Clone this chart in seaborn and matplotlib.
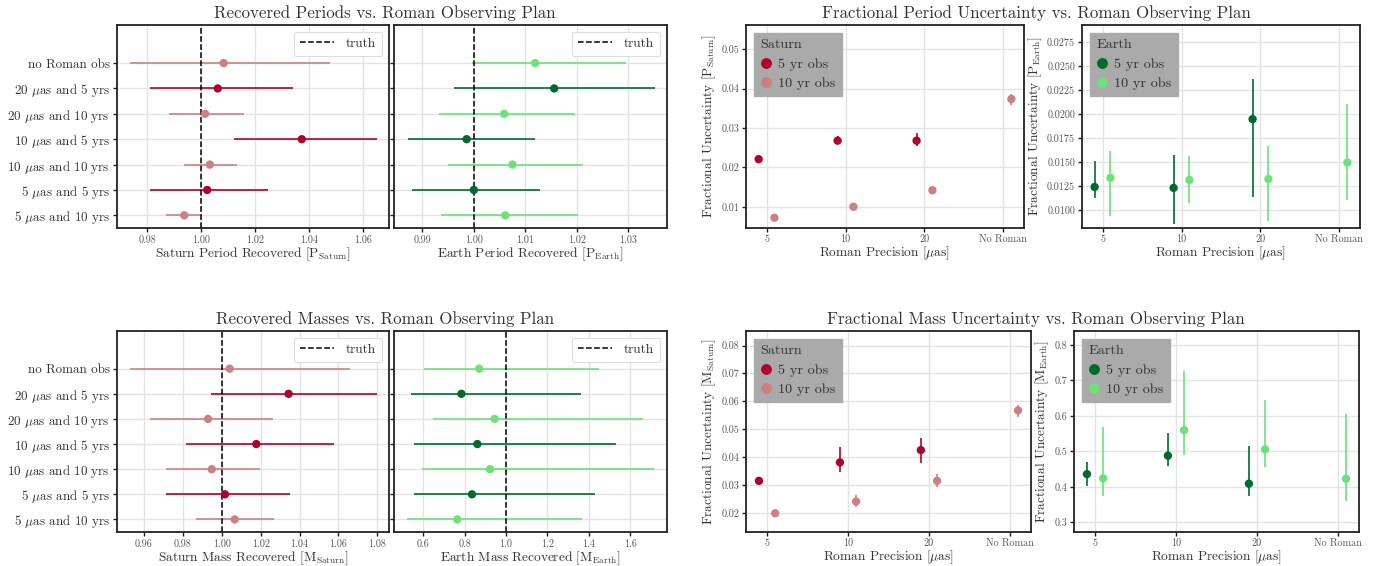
import numpy as np
import pandas as pd
import matplotlib
matplotlib.use("Agg")
import matplotlib.pyplot as plt
from matplotlib.lines import Line2D
import seaborn as sns

# ---------------- data ----------------
row_labels = ["no Roman obs", r"20 $\mu$as and 5 yrs", r"20 $\mu$as and 10 yrs",
              r"10 $\mu$as and 5 yrs", r"10 $\mu$as and 10 yrs",
              r"5 $\mu$as and 5 yrs", r"5 $\mu$as and 10 yrs"]
row_obs = ["10 yr obs", "5 yr obs", "10 yr obs", "5 yr obs", "10 yr obs", "5 yr obs", "10 yr obs"]

sat_P_val = [1.0083, 1.0061, 1.0014, 1.0372, 1.0032, 1.0022, 0.9937]
sat_P_lo = [0.9735, 0.9810, 0.9881, 1.0121, 0.9937, 0.9811, 0.9868]
sat_P_hi = [1.0477, 1.0339, 1.0158, 1.0650, 1.0133, 1.0248, 1.0001]

earth_P_val = [1.0119, 1.0156, 1.0059, 0.9986, 1.0075, 1.0000, 1.0061]
earth_P_lo = [0.9996, 0.9961, 0.9933, 0.9872, 0.9949, 0.9880, 0.9937]
earth_P_hi = [1.0295, 1.0351, 1.0197, 1.0119, 1.0211, 1.0128, 1.0203]

sat_M_val = [1.0041, 1.0344, 0.9930, 1.0178, 0.9949, 1.0017, 1.0067]
sat_M_lo = [0.9527, 0.9945, 0.9634, 0.9815, 0.9713, 0.9716, 0.9870]
sat_M_hi = [1.0658, 1.0797, 1.0263, 1.0578, 1.0198, 1.0349, 1.0270]

earth_M_val = [0.871, 0.785, 0.945, 0.862, 0.923, 0.836, 0.765]
earth_M_lo = [0.606, 0.543, 0.648, 0.556, 0.595, 0.556, 0.523]
earth_M_hi = [1.450, 1.360, 1.662, 1.532, 1.715, 1.431, 1.368]

precision_labels = ["5", "10", "20", "No Roman"]
prec_5yr = ["5", "10", "20"]
prec_10yr = ["5", "10", "20", "No Roman"]

sat_Pfrac_5yr = [0.0221, 0.0268, 0.0268]
sat_Pfrac_5yr_lo = [0.0218, 0.0259, 0.0254]
sat_Pfrac_5yr_hi = [0.0224, 0.0280, 0.0288]
sat_Pfrac_10yr = [0.0072, 0.0100, 0.0142, 0.0374]
sat_Pfrac_10yr_lo = [0.0070, 0.0098, 0.0139, 0.0358]
sat_Pfrac_10yr_hi = [0.0074, 0.0102, 0.0145, 0.0386]

earth_Pfrac_5yr = [0.01243, 0.01233, 0.01948]
earth_Pfrac_5yr_lo = [0.01132, 0.00854, 0.01139]
earth_Pfrac_5yr_hi = [0.01510, 0.01580, 0.02365]
earth_Pfrac_10yr = [0.01337, 0.01316, 0.01326, 0.01497]
earth_Pfrac_10yr_lo = [0.00944, 0.01076, 0.00889, 0.01104]
earth_Pfrac_10yr_hi = [0.01615, 0.01563, 0.01670, 0.02104]

sat_Mfrac_5yr = [0.0316, 0.0382, 0.0426]
sat_Mfrac_5yr_lo = [0.0308, 0.0349, 0.0380]
sat_Mfrac_5yr_hi = [0.0324, 0.0436, 0.0471]
sat_Mfrac_10yr = [0.0200, 0.0242, 0.0316, 0.0568]
sat_Mfrac_10yr_lo = [0.0196, 0.0221, 0.0294, 0.0545]
sat_Mfrac_10yr_hi = [0.0204, 0.0264, 0.0339, 0.0587]

earth_Mfrac_5yr = [0.436, 0.488, 0.409]
earth_Mfrac_5yr_lo = [0.403, 0.458, 0.373]
earth_Mfrac_5yr_hi = [0.469, 0.551, 0.516]
earth_Mfrac_10yr = [0.424, 0.560, 0.506, 0.423]
earth_Mfrac_10yr_lo = [0.375, 0.491, 0.455, 0.359]
earth_Mfrac_10yr_hi = [0.570, 0.727, 0.645, 0.606]

# ---------------- style ----------------
sns.set_theme(style="whitegrid")
plt.rcParams.update({
    "font.family": ["cmr10", "DejaVu Serif"],
    "mathtext.fontset": "cm",
    "axes.formatter.use_mathtext": True,
    "axes.unicode_minus": False,
    "axes.edgecolor": "#222222",
    "axes.linewidth": 1.3,
    "grid.color": "#e3e3e3",
    "grid.linewidth": 1.0,
    "xtick.bottom": True,
    "ytick.left": True,
    "xtick.major.size": 3,
    "ytick.major.size": 3,
    "xtick.major.width": 1.0,
    "ytick.major.width": 1.0,
    "xtick.color": "#222222",
    "ytick.color": "#222222",
    "xtick.labelcolor": "#555555",
    "text.color": "#333333",
    "axes.labelcolor": "#333333",
})

LAB = 9.6     # axis labels / category labels
LEG = 10.2    # legend text
TICK = 7.3    # numeric tick labels
TITLE = 12.2

sat_pal = {"5 yr obs": "#b0002e", "10 yr obs": "#cc8080"}
earth_pal = {"5 yr obs": "#006a2c", "10 yr obs": "#6ee07a"}

W, H = 1387, 566
fig = plt.figure(figsize=(W / 100, H / 100), dpi=100)


def add_ax(x0, y0, x1, y1):
    return fig.add_axes([x0 / W, 1 - y1 / H, (x1 - x0) / W, (y1 - y0) / H])


def recovered_panel(ax, val, lo, hi, pal, xlabel, xlim, xticks, xfmt, show_ylabels):
    pos = list(range(len(row_labels)))[::-1]
    df = pd.DataFrame({"val": val, "pos": pos, "obs": row_obs,
                       "lo": lo, "hi": hi})
    for obs, g in df.groupby("obs"):
        ax.errorbar(g["val"], g["pos"],
                    xerr=[g["val"] - g["lo"], g["hi"] - g["val"]],
                    fmt="none", ecolor=pal[obs], elinewidth=1.4, alpha=0.85, zorder=2)
    sns.scatterplot(data=df, x="val", y="pos", hue="obs", palette=pal,
                    s=36, edgecolor="none", legend=False, ax=ax, zorder=3)
    ax.axvline(1.0, color="black", ls="--", lw=1.1, zorder=2.5)
    ax.set_xlim(*xlim)
    ax.set_ylim(-0.5, 7.5)
    ax.set_xticks(xticks)
    ax.set_xticklabels([xfmt.format(t) for t in xticks])
    ax.set_yticks(pos)
    if show_ylabels:
        ax.set_yticklabels(row_labels, fontsize=9.4, color="#333333")
    else:
        ax.set_yticklabels([])
    ax.tick_params(axis="x", labelsize=TICK, pad=2.5)
    ax.tick_params(axis="y", pad=2)
    ax.set_xlabel(xlabel, fontsize=LAB, labelpad=0)
    ax.set_ylabel("")
    leg = ax.legend(handles=[Line2D([], [], color="black", ls="--", lw=1.1)],
                    labels=["truth"], loc="upper right", fontsize=LAB,
                    frameon=True, fancybox=True, framealpha=1,
                    edgecolor="#dddddd", handlelength=2.6, borderpad=0.45,
                    handletextpad=0.9)
    leg.get_frame().set_linewidth(0.8)


def frac_panel(ax, v5, lo5, hi5, v10, lo10, hi10, pal, title, ylabel, ylim, yticks, yfmt):
    pos_map = {p: i for i, p in enumerate(precision_labels)}
    df5 = pd.DataFrame({"x": [pos_map[p] - 0.1 for p in prec_5yr], "y": v5,
                        "lo": lo5, "hi": hi5, "obs": "5 yr obs"})
    df10 = pd.DataFrame({"x": [pos_map[p] + 0.1 for p in prec_10yr], "y": v10,
                         "lo": lo10, "hi": hi10, "obs": "10 yr obs"})
    df = pd.concat([df5, df10], ignore_index=True)
    for obs, g in df.groupby("obs"):
        ax.errorbar(g["x"], g["y"], yerr=[g["y"] - g["lo"], g["hi"] - g["y"]],
                    fmt="none", ecolor=pal[obs], elinewidth=1.4, alpha=0.85, zorder=2)
    sns.scatterplot(data=df, x="x", y="y", hue="obs", hue_order=["5 yr obs", "10 yr obs"],
                    palette=pal, s=36, edgecolor="none", ax=ax, zorder=3)
    ax.set_xlim(-0.26, 3.26)
    ax.set_ylim(*ylim)
    ax.set_xticks(range(len(precision_labels)))
    ax.set_xticklabels(precision_labels)
    ax.set_yticks(yticks)
    ax.set_yticklabels([yfmt.format(t) for t in yticks])
    ax.tick_params(axis="both", labelsize=TICK, labelcolor="#555555", pad=2)
    ax.set_xlabel(r"Roman Precision [$\mu$as]", fontsize=LAB, labelpad=0)
    ax.set_ylabel(ylabel, fontsize=LAB, labelpad=2)
    leg = ax.legend(title=title, loc="upper left", fontsize=LEG, title_fontsize=LEG,
                    frameon=True, fancybox=False, framealpha=1,
                    facecolor="#aaaaaa", edgecolor="#aaaaaa",
                    handlelength=0.8, handletextpad=0.45, borderpad=0.45,
                    markerscale=1.3, labelspacing=0.45, borderaxespad=0.55)
    leg._legend_box.align = "left"


# ---- top-left: periods ----
ax1 = add_ax(117, 25, 389, 228)
recovered_panel(ax1, sat_P_val, sat_P_lo, sat_P_hi, sat_pal,
                r"Saturn Period Recovered [P$_{\rm Saturn}$]",
                (0.9688, 1.0695), [0.98, 1.00, 1.02, 1.04, 1.06], "{:.2f}", True)
ax2 = add_ax(394, 25, 667, 228)
recovered_panel(ax2, earth_P_val, earth_P_lo, earth_P_hi, earth_pal,
                r"Earth Period Recovered [P$_{\rm Earth}$]",
                (0.9845, 1.0375), [0.99, 1.00, 1.01, 1.02, 1.03], "{:.2f}", False)

# ---- bottom-left: masses ----
ax5 = add_ax(117, 331, 389, 532)
recovered_panel(ax5, sat_M_val, sat_M_lo, sat_M_hi, sat_pal,
                r"Saturn Mass Recovered [M$_{\rm Saturn}$]",
                (0.9462, 1.086), [0.96, 0.98, 1.00, 1.02, 1.04, 1.06, 1.08], "{:.2f}", True)
ax6 = add_ax(394, 331, 667, 532)
recovered_panel(ax6, earth_M_val, earth_M_lo, earth_M_hi, earth_pal,
                r"Earth Mass Recovered [M$_{\rm Earth}$]",
                (0.46, 1.7765), [0.6, 0.8, 1.0, 1.2, 1.4, 1.6], "{:.1f}", False)

# ---- top-right: fractional period ----
ax3 = add_ax(746, 25, 1024, 228)
frac_panel(ax3, sat_Pfrac_5yr, sat_Pfrac_5yr_lo, sat_Pfrac_5yr_hi,
           sat_Pfrac_10yr, sat_Pfrac_10yr_lo, sat_Pfrac_10yr_hi, sat_pal, "Saturn",
           r"Fractional Uncertainty [P$_{\rm Saturn}$]", (0.0046, 0.0562),
           [0.01, 0.02, 0.03, 0.04, 0.05], "{:.2f}")
ax4 = add_ax(1082, 25, 1360, 228)
frac_panel(ax4, earth_Pfrac_5yr, earth_Pfrac_5yr_lo, earth_Pfrac_5yr_hi,
           earth_Pfrac_10yr, earth_Pfrac_10yr_lo, earth_Pfrac_10yr_hi, earth_pal, "Earth",
           r"Fractional Uncertainty [P$_{\rm Earth}$]", (0.00816, 0.02927),
           [0.01, 0.0125, 0.015, 0.0175, 0.02, 0.0225, 0.025, 0.0275], "{:.4f}")

# ---- bottom-right: fractional mass ----
ax7 = add_ax(746, 331, 1031, 532)
frac_panel(ax7, sat_Mfrac_5yr, sat_Mfrac_5yr_lo, sat_Mfrac_5yr_hi,
           sat_Mfrac_10yr, sat_Mfrac_10yr_lo, sat_Mfrac_10yr_hi, sat_pal, "Saturn",
           r"Fractional Uncertainty [M$_{\rm Saturn}$]", (0.0133, 0.0852),
           [0.02, 0.03, 0.04, 0.05, 0.06, 0.07, 0.08], "{:.2f}")
ax8 = add_ax(1074, 331, 1359, 532)
frac_panel(ax8, earth_Mfrac_5yr, earth_Mfrac_5yr_lo, earth_Mfrac_5yr_hi,
           earth_Mfrac_10yr, earth_Mfrac_10yr_lo, earth_Mfrac_10yr_hi, earth_pal, "Earth",
           r"Fractional Uncertainty [M$_{\rm Earth}$]", (0.2728, 0.8394),
           [0.3, 0.4, 0.5, 0.6, 0.7, 0.8], "{:.1f}")

# ---- titles ----
fig.text(385 / W, 1 - 13 / H, "Recovered Periods vs. Roman Observing Plan",
         ha="center", va="center", fontsize=TITLE)
fig.text(1036 / W, 1 - 13 / H, "Fractional Period Uncertainty vs. Roman Observing Plan",
         ha="center", va="center", fontsize=TITLE)
fig.text(385 / W, 1 - 319 / H, "Recovered Masses vs. Roman Observing Plan",
         ha="center", va="center", fontsize=TITLE)
fig.text(1036 / W, 1 - 319 / H, "Fractional Mass Uncertainty vs. Roman Observing Plan",
         ha="center", va="center", fontsize=TITLE)

fig.savefig("out.png", dpi=100, facecolor="white")
